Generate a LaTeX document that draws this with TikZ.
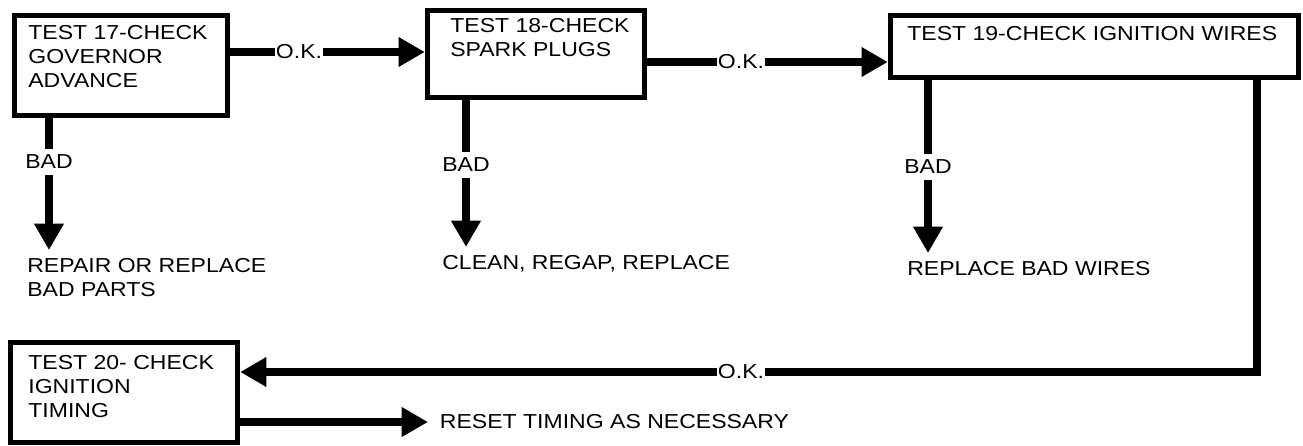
\documentclass[tikz,border=0pt]{standalone}
\usepackage{fontspec}
\setmainfont{Liberation Sans}[FakeStretch=1.14]
\usetikzlibrary{arrows.meta,positioning}
\newcommand\px{0.02cm}

\begin{document}
\begin{tikzpicture}[
  x=\px, y=-\px,
  every node/.style={font=\fontsize{11.5}{13.8}\selectfont},
  testbox/.style={draw,rectangle,line width=3pt,inner sep=0pt},
  boxtext/.style={anchor=north west,inner sep=0pt,align=left},
  badlabel/.style={inner xsep=1pt,inner ysep=3pt},
  oklabel/.style={inner xsep=0.6pt,inner ysep=0pt},
  result/.style={anchor=north west,inner sep=0pt,outer ysep=4.5pt,align=left},
  flow/.style={line width=4pt,line join=miter},
  flowarrow/.style={flow,-{Triangle[length=15pt,width=16pt]}}
]
  \useasboundingbox (0,0) rectangle (1303,446);

  % test boxes
  \node[testbox,minimum width=213*\px,minimum height=100*\px] (t17) at (121,65.5) {};
  \node[testbox,minimum width=217*\px,minimum height=87*\px] (t18) at (536,54) {};
  \node[testbox,minimum width=408*\px,minimum height=62*\px] (t19) at (1094.5,46.5) {};
  \node[testbox,minimum width=227*\px,minimum height=100*\px] (t20) at (124,392.5) {};

  \node[boxtext] (t17txt) at (28,25) {TEST 17-CHECK\\GOVERNOR\\ADVANCE};
  \node[boxtext] (t18txt) at (450,18) {TEST 18-CHECK\\SPARK PLUGS};
  \node[boxtext] (t19txt) at (907,26) {TEST 19-CHECK IGNITION WIRES};
  \node[boxtext] (t20txt) at (28,355) {TEST 20- CHECK\\IGNITION\\TIMING};

  % labels and results
  \node[oklabel] (ok1) at (299,52) {O.K.};
  \node[oklabel] (ok2) at (741,62) {O.K.};
  \node[oklabel] (ok3) at (741,372) {O.K.};

  \node[badlabel] (bad17) at (49,162) {BAD};
  \node[badlabel] (bad18) at (466,165) {BAD};
  \node[badlabel] (bad19) at (928,167) {BAD};

  \node[result] (res17) at (27,250) {REPAIR OR REPLACE\\BAD PARTS};
  \node[result] (res18) at (442,247) {CLEAN, REGAP, REPLACE};
  \node[result] (res19) at (907,253) {REPLACE BAD WIRES};
  \node[anchor=west,inner sep=0pt,outer xsep=6.8pt] (reset) at (428,422) {RESET TIMING AS NECESSARY};

  \coordinate (turn) at (1257,372);

  % connectors
  \draw[flow] (ok1 -| t17.east) -- (ok1.west);
  \draw[flowarrow] (ok1.east) -- (ok1 -| t18.west);
  \draw[flow] (ok2 -| t18.east) -- (ok2.west);
  \draw[flowarrow] (ok2.east) -- (ok2 -| t19.west);

  \draw[flow] (t17.south -| bad17) -- (bad17.north);
  \draw[flowarrow] (bad17.south) -- (bad17 |- res17.north);
  \draw[flow] (t18.south -| bad18) -- (bad18.north);
  \draw[flowarrow] (bad18.south) -- (bad18 |- res18.north);
  \draw[flow] (t19.south -| bad19) -- (bad19.north);
  \draw[flowarrow] (bad19.south) -- (bad19 |- res19.north);

  \draw[flow] (turn |- t19.south) -- (turn) -- (ok3.east);
  \draw[flowarrow] (ok3.west) -- (ok3 -| t20.east);
  \draw[flowarrow] (t20.east |- reset) -- (reset.west);
\end{tikzpicture}
\end{document}
